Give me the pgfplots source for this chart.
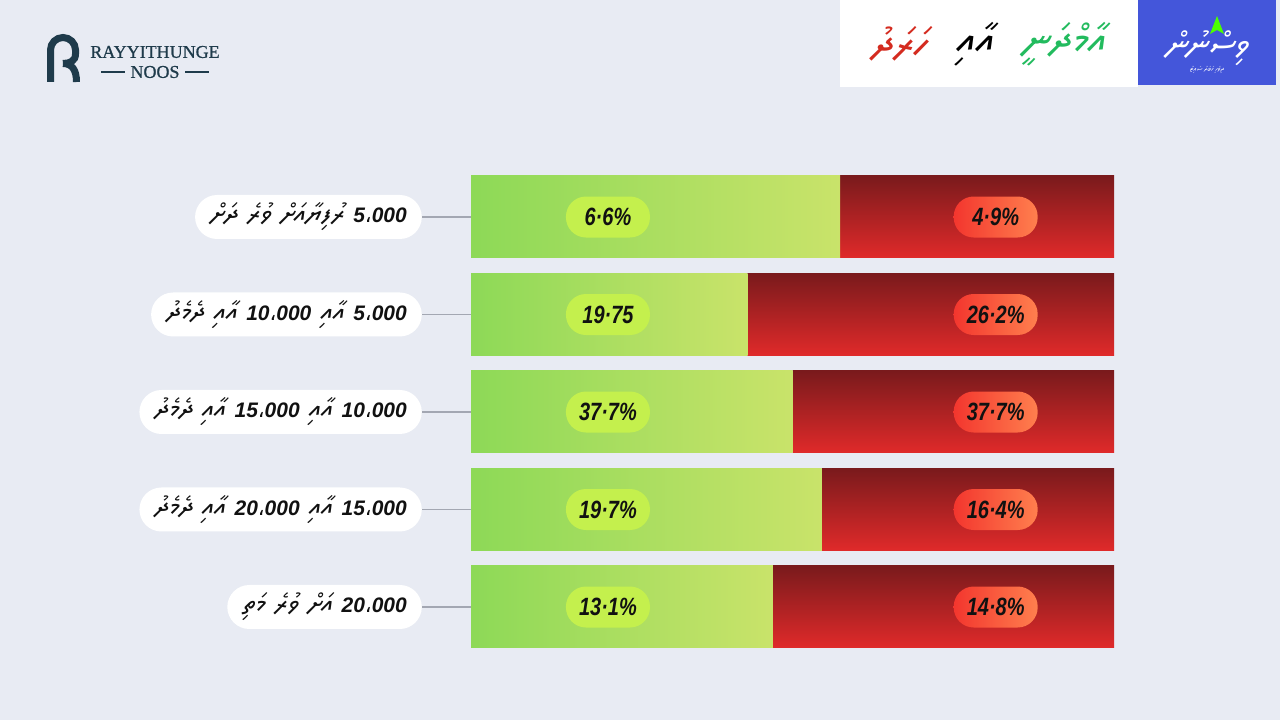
\documentclass[border=0pt]{standalone}
\usepackage{pgfplots}
\usepackage{pgfplotstable}
\pgfplotsset{compat=1.18}
\usepackage{fontspec}
\setmainfont{Liberation Sans}
\newfontfamily\numfont{Liberation Sans}
\newfontfamily\pctfamily[FakeStretch=0.8]{Liberation Sans}
\newfontfamily\seriffont[FakeBold=0.8]{Liberation Serif}
\newfontfamily\arab{DejaVu Sans}
\newfontfamily\thaana[Script=Thaana,FakeSlant=0.12]{Noto Sans Thaana}
\TeXXeTstate=1
\definecolor{bgc}{HTML}{E8EBF3}
\definecolor{gL}{HTML}{8DD957}
\definecolor{gR}{HTML}{C9E36A}
\definecolor{rT}{HTML}{7A1A1C}
\definecolor{rB}{HTML}{E02A2A}
\definecolor{pillG}{HTML}{C4F04D}
\definecolor{pillRL}{HTML}{F3362E}
\definecolor{pillRR}{HTML}{FF7F4E}
\definecolor{txt}{HTML}{111111}
\definecolor{logoc}{HTML}{1F3B4B}
\definecolor{hgreen}{HTML}{22BB5E}
\definecolor{hred}{HTML}{D42B1F}
\definecolor{boxblue}{HTML}{4456DA}
\definecolor{tickc}{HTML}{A3A7B2}
\newcommand\n[1]{{\numfont\bfseries\itshape #1}}
\newcommand\sep{{\arab ،}}
\newcommand\tha[1]{{\thaana\bfseries\fontsize{27}{28}\selectfont #1}}
\newcommand\gap{\hspace{9pt}}
\newcommand\rowlabel[1]{\ifcase#1
  \beginR\beginL\n{5}\sep\n{000}\endL\gap\tha{ރުފިޔާއަށް}\gap\tha{ވުރެ}\gap\tha{ދަށް}\endR\or
  \beginR\beginL\n{5}\sep\n{000}\endL\gap\tha{އާއި}\gap\beginL\n{10}\sep\n{000}\endL\gap\tha{އާއި}\gap\tha{ދެމެދު}\endR\or
  \beginR\beginL\n{10}\sep\n{000}\endL\gap\tha{އާއި}\gap\beginL\n{15}\sep\n{000}\endL\gap\tha{އާއި}\gap\tha{ދެމެދު}\endR\or
  \beginR\beginL\n{15}\sep\n{000}\endL\gap\tha{އާއި}\gap\beginL\n{20}\sep\n{000}\endL\gap\tha{އާއި}\gap\tha{ދެމެދު}\endR\or
  \beginR\beginL\n{20}\sep\n{000}\endL\gap\tha{އަށް}\gap\tha{ވުރެ}\gap\tha{މަތި}\endR\fi}
\pgfplotstableread{
row g r
0 6.6 4.9
1 19.75 26.2
2 37.7 37.7
3 19.7 16.4
4 13.1 14.8
}\datatable
\begin{document}
\begin{tikzpicture}[x=1pt,y=1pt]
\fill[bgc] (0,0) rectangle (1280,720);
% logo
\draw[logoc, line width=7pt] (50.5,638) -- (50.5,670) arc[start angle=180,end angle=0,radius=12.5] -- (75.5,666) .. controls (75.5,659) and (70,656.5) .. (63,656.5);
\draw[logoc, line width=7pt] (63,656.5) .. controls (72,656.5) and (76.5,650) .. (76.5,638);
\node[text=logoc, font=\seriffont\fontsize{18}{20}\selectfont] at (155,668) {RAYYITHUNGE};
\node[text=logoc, font=\seriffont\fontsize{18}{20}\selectfont] at (155,648) {NOOS};
\draw[logoc, line width=1.6pt] (101,648) -- (125,648) (185,648) -- (209,648);
% header boxes
\fill[white] (840,633) rectangle (1138,720);
\fill[boxblue] (1138,635) rectangle (1276,720);
\node[text=hgreen, font=\thaana\bfseries\fontsize{42}{44}\selectfont] at (1064,676) {\beginR އާމްދަނީ\endR};
\node[text=black, font=\thaana\bfseries\fontsize{42}{44}\selectfont] at (975,676) {\beginR އާއި\endR};
\node[text=hred, font=\thaana\bfseries\fontsize{42}{44}\selectfont] at (899,676) {\beginR ހަރަދު\endR};
\node[text=white, font=\thaana\bfseries\fontsize{34}{38}\selectfont] at (1207,672) {\beginR ވިސްނުން\endR};
\fill[green!70!yellow] (1217,704) -- (1224,686) -- (1217,690) -- (1210,686) -- cycle;
\node[text=white, font=\thaana\fontsize{7}{8}\selectfont] at (1207,650) {\beginR ދިވެހި ޚަބަރު ސައިޓު\endR};
% bars: one axis per row so that each bar carries its own gradient
\pgfplotsinvokeforeach{0,...,4}{
\begin{axis}[at={(471pt,462pt-#1*97.5pt)}, anchor=south west, scale only axis,
  width=643pt, height=82pt, xmin=0, xmax=1, ymin=#1-0.5, ymax=#1+0.5,
  xbar stacked, bar width=82pt,
  axis x line=none, axis y line*=left, y axis line style={draw=none},
  ytick={#1}, yticklabels={\rowlabel{#1}},
  tick align=outside, major tick length=49pt,
  ytick style={draw=tickc, line width=1.3pt},
  yticklabel style={fill=white, rounded corners=22pt, minimum height=44pt, inner xsep=15pt, text=txt, font=\fontsize{21}{24}\selectfont, anchor=east},
  clip=false]
\addplot[draw=none, left color=gL, right color=gR, restrict y to domain=#1:#1] table[y=row, x expr={\thisrow{g}/(\thisrow{g}+\thisrow{r})}] {\datatable};
\addplot[draw=none, top color=rT, bottom color=rB, restrict y to domain=#1:#1] table[y=row, x expr={\thisrow{r}/(\thisrow{g}+\thisrow{r})}] {\datatable};
\end{axis}
}
% value pills
\begin{axis}[at={(471pt,54.5pt)}, anchor=south west, scale only axis,
  width=643pt, height=507pt, xmin=0, xmax=1, ymin=-0.6, ymax=4.6, y dir=reverse,
  hide axis, clip=false]
\addplot[only marks, mark=*, mark size=0.01pt, mark options={draw=none,fill=none},
  nodes near coords, point meta=explicit symbolic,
  every node near coord/.append style={anchor=center, fill=pillG, rounded corners=20pt, minimum width=84pt, minimum height=41pt, inner sep=0pt, text=txt, font=\pctfamily\bfseries\itshape\fontsize{25}{28}\selectfont}]
  coordinates {(0.213,0) [6·6\%] (0.213,1) [19·75] (0.213,2) [37·7\%] (0.213,3) [19·7\%] (0.213,4) [13·1\%]};
\addplot[only marks, mark=*, mark size=0.01pt, mark options={draw=none,fill=none},
  nodes near coords, point meta=explicit symbolic,
  every node near coord/.append style={anchor=center, left color=pillRL, right color=pillRR, rounded corners=20pt, minimum width=84pt, minimum height=41pt, inner sep=0pt, text=txt, font=\pctfamily\bfseries\itshape\fontsize{25}{28}\selectfont}]
  coordinates {(0.816,0) [4·9\%] (0.816,1) [26·2\%] (0.816,2) [37·7\%] (0.816,3) [16·4\%] (0.816,4) [14·8\%]};
\end{axis}
\end{tikzpicture}
\end{document}
